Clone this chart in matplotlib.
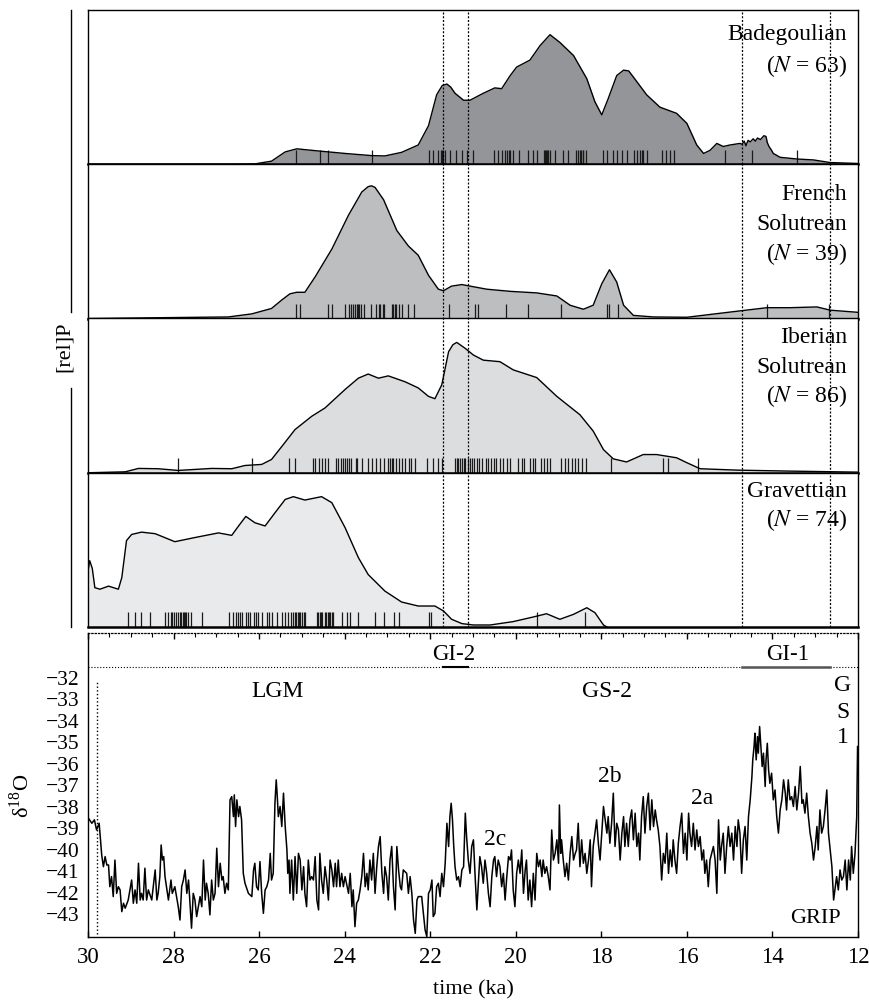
import matplotlib.pyplot as plt
from matplotlib.lines import Line2D
from matplotlib.ticker import MultipleLocator

plt.rcParams['font.family'] = ['Liberation Serif', 'DejaVu Serif']
plt.rcParams['mathtext.fontset'] = 'stix'

# ---- summed probability curves (relative P, panel height = 1) ----
badeg_t = [30.0, 26.56, 26.10, 26.02, 25.71, 25.39, 25.12, 24.61, 23.99, 23.37,
           23.06, 22.67, 22.28, 22.04, 21.85, 21.72, 21.61, 21.52, 21.42, 21.22, 21.07, 20.76,
           20.49, 20.33, 20.13, 19.98, 19.67, 19.43, 19.20, 18.97, 18.65, 18.34,
           18.15, 17.99, 17.84, 17.64, 17.48, 17.36, 17.25, 16.94, 16.63, 16.24, 16.00,
           15.77, 15.61, 15.46, 15.30, 15.15, 14.99, 14.76, 14.71, 14.66, 14.62,
           14.57, 14.52, 14.45, 14.40, 14.35, 14.28, 14.20, 14.15, 14.12, 14.08,
           14.02, 13.98, 13.82, 13.43, 13.04, 12.65, 12.0]
badeg_p = [0.0, 0.0, 0.002, 0.006, 0.02, 0.08, 0.10, 0.086, 0.07, 0.056,
           0.054, 0.077, 0.125, 0.25, 0.45, 0.51, 0.52, 0.50, 0.46, 0.415, 0.415, 0.46,
           0.495, 0.49, 0.575, 0.63, 0.675, 0.77, 0.84, 0.79, 0.705, 0.555,
           0.405, 0.32, 0.425, 0.575, 0.61, 0.605, 0.565, 0.45, 0.37, 0.33, 0.265,
           0.125, 0.07, 0.09, 0.135, 0.115, 0.125, 0.135, 0.13, 0.15, 0.12,
           0.155, 0.145, 0.165, 0.15, 0.17, 0.16, 0.185, 0.18, 0.14, 0.115,
           0.09, 0.07, 0.045, 0.034, 0.028, 0.011, 0.005]

french_t = [30.0, 26.72, 26.17, 25.71, 25.47, 25.28, 25.12, 24.93, 24.69, 24.30,
            23.91, 23.60, 23.45, 23.37, 23.29, 23.09, 22.78, 22.51, 22.28, 22.04, 21.81,
            21.69, 21.50, 21.26, 21.07, 20.68, 20.13, 19.51, 19.04, 18.73, 18.42,
            18.19, 17.99, 17.81, 17.64, 17.48, 17.25, 16.78, 16.00, 15.46, 14.83,
            14.13, 13.59, 12.96, 12.65, 12.0]
french_p = [0.0, 0.01, 0.03, 0.065, 0.12, 0.16, 0.17, 0.17, 0.27, 0.45,
            0.67, 0.82, 0.855, 0.86, 0.85, 0.77, 0.57, 0.47, 0.41, 0.28, 0.19,
            0.18, 0.21, 0.22, 0.21, 0.19, 0.176, 0.166, 0.146, 0.086, 0.06,
            0.086, 0.225, 0.316, 0.236, 0.086, 0.02, 0.01, 0.008, 0.026, 0.047,
            0.07, 0.07, 0.075, 0.054, 0.04]

iber_t = [30.0, 29.13, 28.82, 28.36, 27.89, 27.11, 26.64, 26.33, 25.94, 25.71,
          25.47, 25.16, 24.77, 24.46, 23.99, 23.68, 23.45, 23.21, 22.98, 22.59,
          22.28, 22.04, 21.89, 21.73, 21.57, 21.47, 21.38, 21.18, 20.99, 20.76, 20.37,
          20.06, 19.51, 19.04, 18.50, 18.19, 17.95, 17.72, 17.41, 17.02, 16.71,
          16.24, 16.00, 15.69, 14.83, 13.67, 12.0]
iber_p = [0.0, 0.006, 0.028, 0.026, 0.015, 0.028, 0.026, 0.047, 0.054, 0.086,
          0.17, 0.28, 0.366, 0.42, 0.54, 0.613, 0.64, 0.613, 0.628, 0.59,
          0.55, 0.495, 0.48, 0.57, 0.785, 0.83, 0.845, 0.806, 0.763, 0.73, 0.72,
          0.667, 0.617, 0.495, 0.376, 0.27, 0.15, 0.09, 0.07, 0.118, 0.118,
          0.097, 0.065, 0.026, 0.017, 0.011, 0.004]

grav_t = [30.0, 29.96, 29.90, 29.84, 29.72, 29.52, 29.29, 29.21, 29.10, 28.98, 28.75,
          28.43, 27.97, 27.50, 26.95, 26.64, 26.48, 26.31, 26.10, 25.86, 25.63,
          25.39, 25.20, 24.93, 24.54, 24.30, 23.99, 23.68, 23.45, 23.06, 22.67,
          22.28, 21.89, 21.69, 21.50, 21.26, 20.99, 20.60, 20.06, 19.59, 19.28,
          18.97, 18.65, 18.34, 18.15, 17.95, 17.87]
grav_p = [0.36, 0.43, 0.38, 0.255, 0.245, 0.265, 0.245, 0.32, 0.56, 0.60, 0.615,
          0.605, 0.553, 0.58, 0.61, 0.594, 0.655, 0.717, 0.676, 0.655, 0.74,
          0.827, 0.845, 0.823, 0.845, 0.806, 0.644, 0.45, 0.34, 0.233, 0.162,
          0.136, 0.136, 0.104, 0.05, 0.022, 0.013, 0.013, 0.035, 0.065, 0.086,
          0.05, 0.082, 0.125, 0.093, 0.013, 0.0]

# ---- individual dates (rug) ----
badeg_dates = [25.14, 24.58, 24.38, 23.37, 22.04, 21.93, 21.81, 21.75, 21.72, 21.70,
               21.65, 21.54, 21.40, 21.26, 21.15, 20.99, 20.52, 20.41, 20.33, 20.25,
               20.20, 20.15, 20.13, 20.07, 19.92, 19.71, 19.59, 19.51, 19.34, 19.31,
               19.29, 19.27, 19.24, 19.20, 19.08, 18.89, 18.79, 18.59, 18.54, 18.50,
               18.47, 18.44, 18.42, 18.36, 17.97, 17.86, 17.72, 17.63, 17.52, 17.41,
               17.24, 17.16, 17.10, 17.06, 17.02, 16.94, 16.59, 16.49, 16.39, 16.30,
               15.11, 14.48, 13.43]
french_dates = [25.14, 25.04, 24.40, 24.29, 23.99, 23.91, 23.85, 23.81, 23.77, 23.72,
                23.69, 23.66, 23.62, 23.54, 23.38, 23.27, 23.20, 23.17, 23.11, 23.07,
                22.90, 22.86, 22.83, 22.80, 22.74, 22.67, 22.51, 22.37, 21.56, 20.95,
                20.88, 20.23, 19.71, 18.94, 17.87, 17.81, 17.62, 14.13, 12.67]
iber_dates = [27.89, 26.16, 25.30, 25.16, 24.75, 24.69, 24.61, 24.52, 24.46, 24.40,
              24.21, 24.15, 24.08, 24.03, 23.99, 23.95, 23.91, 23.85, 23.74, 23.72,
              23.60, 23.46, 23.37, 23.27, 23.17, 23.07, 22.99, 22.94, 22.90, 22.86,
              22.80, 22.74, 22.65, 22.60, 22.49, 22.45, 22.35, 22.08, 21.93, 21.82,
              21.73, 21.42, 21.38, 21.34, 21.30, 21.26, 21.22, 21.18, 21.11, 21.07,
              21.03, 20.97, 20.91, 20.85, 20.80, 20.70, 20.64, 20.59, 20.52, 20.46,
              20.38, 20.29, 20.20, 20.13, 19.95, 19.86, 19.81, 19.67, 19.60, 19.55,
              19.40, 19.34, 19.26, 19.21, 18.95, 18.85, 18.77, 18.69, 18.61, 18.54,
              18.45, 18.36, 17.78, 16.55, 16.45, 15.73]
grav_dates = [29.06, 28.90, 28.75, 28.55, 28.20, 28.12, 28.06, 28.03, 27.98, 27.95,
              27.90, 27.85, 27.82, 27.79, 27.76, 27.73, 27.70, 27.67, 27.59, 27.34,
              26.70, 26.60, 26.55, 26.50, 26.45, 26.41, 26.31, 26.25, 26.21, 26.13,
              26.07, 26.02, 25.94, 25.82, 25.78, 25.71, 25.59, 25.47, 25.40, 25.32,
              25.25, 25.20, 25.16, 25.13, 25.10, 25.07, 25.04, 24.99, 24.96, 24.93,
              24.65, 24.62, 24.58, 24.55, 24.52, 24.46, 24.43, 24.40, 24.37, 24.34,
              24.30, 24.27, 24.07, 23.95, 23.87, 23.68, 23.29, 23.09, 22.85, 22.74,
              22.04, 21.98, 19.51, 18.38]

# ---- interstadial boundaries (ka) ----
gi2 = [21.70, 21.12]
gi1 = [14.71, 12.66]

# ---- GRIP d18O ----
grip_age = [
    29.99, 29.91, 29.85, 29.80, 29.74, 29.72, 29.68, 29.64, 29.60, 29.56,
    29.52, 29.49, 29.45, 29.41, 29.37, 29.33, 29.29, 29.25, 29.21, 29.17,
    29.13, 29.06, 28.98, 28.94, 28.90, 28.86, 28.82, 28.78, 28.75, 28.71,
    28.67, 28.63, 28.59, 28.51, 28.43, 28.39, 28.36, 28.32, 28.29, 28.26,
    28.23, 28.20, 28.12, 28.06, 28.03, 27.97, 27.89, 27.85, 27.81, 27.77,
    27.73, 27.69, 27.65, 27.61, 27.58, 27.54, 27.50, 27.46, 27.42, 27.38,
    27.34, 27.30, 27.26, 27.23, 27.19, 27.15, 27.11, 27.07, 27.03, 26.99,
    26.95, 26.91, 26.87, 26.84, 26.80, 26.76, 26.72, 26.68, 26.64, 26.60,
    26.58, 26.55, 26.52, 26.48, 26.45, 26.41, 26.37, 26.33, 26.25, 26.17,
    26.13, 26.10, 26.06, 26.02, 25.98, 25.94, 25.90, 25.86, 25.82, 25.78,
    25.74, 25.71, 25.67, 25.63, 25.60, 25.58, 25.55, 25.51, 25.47, 25.43,
    25.39, 25.35, 25.33, 25.30, 25.28, 25.24, 25.20, 25.16, 25.12, 25.08,
    25.04, 25.00, 24.96, 24.93, 24.89, 24.85, 24.81, 24.77, 24.73, 24.69,
    24.65, 24.61, 24.58, 24.54, 24.50, 24.46, 24.42, 24.38, 24.34, 24.30,
    24.26, 24.22, 24.19, 24.15, 24.11, 24.07, 24.03, 23.99, 23.91, 23.87,
    23.83, 23.80, 23.76, 23.72, 23.68, 23.64, 23.60, 23.56, 23.52, 23.48,
    23.45, 23.41, 23.37, 23.33, 23.29, 23.25, 23.21, 23.17, 23.13, 23.09,
    23.06, 23.02, 22.98, 22.94, 22.90, 22.86, 22.82, 22.78, 22.74, 22.70,
    22.67, 22.63, 22.55, 22.51, 22.47, 22.43, 22.39, 22.35, 22.31, 22.28,
    22.20, 22.16, 22.12, 22.08, 22.04, 22.00, 21.96, 21.93, 21.89, 21.85,
    21.81, 21.77, 21.73, 21.69, 21.65, 21.61, 21.57, 21.54, 21.51, 21.48,
    21.45, 21.42, 21.38, 21.34, 21.30, 21.26, 21.22, 21.18, 21.15, 21.11,
    21.07, 21.03, 20.99, 20.95, 20.91, 20.88, 20.84, 20.80, 20.76, 20.72,
    20.68, 20.64, 20.60, 20.56, 20.52, 20.49, 20.45, 20.41, 20.37, 20.33,
    20.29, 20.25, 20.21, 20.17, 20.13, 20.10, 20.06, 20.02, 19.98, 19.94,
    19.90, 19.86, 19.82, 19.78, 19.75, 19.71, 19.67, 19.63, 19.59, 19.55,
    19.51, 19.47, 19.43, 19.39, 19.36, 19.32, 19.28, 19.24, 19.20, 19.16,
    19.12, 19.08, 19.04, 19.00, 18.98, 18.95, 18.93, 18.89, 18.85, 18.81,
    18.77, 18.73, 18.69, 18.65, 18.61, 18.58, 18.54, 18.50, 18.46, 18.42,
    18.38, 18.34, 18.30, 18.26, 18.23, 18.19, 18.15, 18.11, 18.07, 18.03,
    17.99, 17.95, 17.91, 17.87, 17.84, 17.80, 17.76, 17.72, 17.68, 17.64,
    17.60, 17.56, 17.52, 17.48, 17.45, 17.41, 17.37, 17.33, 17.29, 17.25,
    17.21, 17.17, 17.13, 17.10, 17.06, 17.02, 16.98, 16.94, 16.90, 16.86,
    16.82, 16.78, 16.74, 16.71, 16.67, 16.63, 16.59, 16.55, 16.51, 16.47,
    16.43, 16.39, 16.35, 16.32, 16.28, 16.24, 16.20, 16.16, 16.12, 16.08,
    16.04, 16.00, 15.96, 15.93, 15.89, 15.85, 15.81, 15.77, 15.73, 15.69,
    15.65, 15.61, 15.58, 15.54, 15.50, 15.46, 15.42, 15.38, 15.34, 15.30,
    15.26, 15.22, 15.19, 15.15, 15.11, 15.07, 15.03, 14.99, 14.95, 14.91,
    14.87, 14.83, 14.80, 14.76, 14.72, 14.68, 14.64, 14.60, 14.56, 14.52,
    14.48, 14.46, 14.43, 14.41, 14.38, 14.35, 14.33, 14.30, 14.27, 14.24,
    14.21, 14.17, 14.15, 14.12, 14.09, 14.06, 14.02, 13.98, 13.94, 13.90,
    13.86, 13.82, 13.78, 13.74, 13.70, 13.67, 13.63, 13.59, 13.55, 13.51,
    13.47, 13.43, 13.39, 13.35, 13.31, 13.28, 13.24, 13.20, 13.16, 13.12,
    13.08, 13.04, 13.00, 12.96, 12.93, 12.89, 12.85, 12.81, 12.77, 12.73,
    12.69, 12.65, 12.61, 12.57, 12.53, 12.50, 12.46, 12.42, 12.38, 12.34,
    12.30, 12.26, 12.22, 12.18, 12.15, 12.11, 12.07, 12.03, 12.01]
grip_d18o = [
    -38.53, -38.76, -38.60, -39.07, -38.76, -39.22, -40.23, -40.78, -40.31, -40.70,
    -40.70, -41.71, -41.24, -42.17, -40.47, -42.02, -41.71, -41.86, -42.87, -42.48,
    -42.71, -42.33, -41.40, -42.48, -41.86, -42.48, -40.62, -42.33, -42.02, -42.33,
    -40.85, -42.33, -41.86, -42.33, -40.93, -42.33, -42.02, -41.24, -39.77, -40.47,
    -40.31, -41.24, -42.33, -41.40, -42.02, -41.71, -42.64, -43.26, -41.71, -41.40,
    -40.93, -42.02, -41.40, -42.64, -43.64, -42.02, -42.33, -43.10, -42.64, -42.17,
    -42.64, -40.47, -42.33, -41.55, -42.02, -43.02, -41.40, -42.33, -42.02, -39.92,
    -41.71, -40.62, -41.40, -41.24, -42.02, -41.55, -41.86, -37.67, -37.52, -38.45,
    -37.44, -38.91, -37.67, -38.45, -37.98, -38.60, -41.09, -41.55, -42.02, -42.17,
    -40.93, -40.62, -41.71, -41.86, -40.54, -42.02, -42.95, -41.86, -41.71, -41.40,
    -40.16, -41.40, -41.09, -37.83, -36.74, -37.36, -38.45, -37.98, -38.91, -37.36,
    -38.91, -40.00, -41.09, -40.47, -42.02, -40.47, -42.33, -40.31, -42.02, -40.16,
    -40.47, -41.86, -40.78, -42.02, -42.64, -40.47, -41.40, -41.24, -41.40, -40.31,
    -42.33, -42.79, -40.16, -41.40, -42.02, -40.78, -41.40, -42.33, -40.47, -40.93,
    -41.71, -40.62, -41.71, -40.47, -41.71, -41.09, -41.71, -41.24, -42.02, -41.09,
    -42.64, -41.86, -43.57, -42.48, -42.33, -41.86, -41.24, -40.16, -41.71, -41.09,
    -41.86, -40.47, -41.40, -40.16, -42.02, -40.78, -39.84, -39.38, -41.09, -42.02,
    -40.78, -41.24, -42.33, -40.47, -39.84, -41.71, -42.79, -39.84, -40.93, -41.71,
    -41.86, -40.93, -41.09, -42.02, -41.24, -42.02, -43.26, -43.88, -42.33, -42.17,
    -42.17, -42.95, -43.72, -44.03, -42.02, -41.86, -41.40, -43.10, -42.95, -41.71,
    -41.55, -42.17, -41.09, -41.71, -40.62, -38.76, -39.84, -38.45, -37.83, -38.60,
    -39.84, -40.78, -41.40, -41.24, -41.71, -40.93, -40.78, -38.29, -39.38, -40.47,
    -41.09, -39.84, -39.53, -41.24, -42.79, -41.71, -40.31, -40.78, -41.55, -40.47,
    -41.09, -42.02, -42.64, -41.24, -40.47, -40.31, -41.24, -40.47, -40.78, -41.71,
    -41.09, -42.33, -41.24, -40.31, -40.47, -40.00, -41.86, -42.64, -41.09, -40.47,
    -41.09, -40.00, -42.02, -40.93, -40.47, -42.33, -41.40, -42.64, -41.09, -42.33,
    -40.16, -40.78, -40.47, -41.24, -40.47, -41.09, -40.78, -41.24, -41.86, -39.07,
    -40.47, -40.16, -39.53, -40.62, -37.91, -40.16, -39.53, -40.47, -41.24, -40.62,
    -41.40, -40.16, -39.38, -40.47, -40.16, -40.00, -38.76, -40.78, -39.53, -40.62,
    -40.16, -41.09, -40.47, -39.53, -41.71, -39.84, -39.22, -38.60, -39.69, -40.47,
    -39.22, -37.98, -38.60, -39.22, -38.45, -39.69, -38.76, -37.36, -39.84, -38.76,
    -39.07, -40.47, -39.22, -38.45, -39.84, -38.76, -39.84, -38.60, -38.14, -39.53,
    -38.29, -39.84, -39.22, -40.47, -38.45, -37.52, -39.22, -37.98, -37.36, -39.07,
    -37.67, -38.91, -38.14, -38.60, -39.07, -39.84, -41.40, -40.16, -40.62, -39.22,
    -41.09, -40.00, -40.78, -39.53, -40.47, -41.09, -39.69, -38.91, -38.29, -40.16,
    -39.22, -40.47, -38.29, -39.22, -39.84, -38.76, -40.00, -39.07, -39.84, -39.38,
    -40.47, -40.00, -41.09, -40.47, -41.71, -40.47, -40.16, -39.84, -40.47, -42.02,
    -38.60, -40.47, -39.84, -39.22, -41.09, -39.84, -38.91, -39.84, -39.22, -40.47,
    -38.91, -39.84, -38.60, -39.22, -41.09, -39.53, -38.91, -40.47, -38.45, -37.67,
    -36.59, -35.81, -35.19, -34.57, -35.81, -34.73, -35.50, -34.26, -35.19, -36.12,
    -35.50, -37.05, -35.81, -35.04, -36.28, -36.90, -36.43, -37.67, -37.21, -38.45,
    -39.22, -38.14, -37.67, -36.74, -37.36, -38.14, -36.74, -37.67, -37.52, -37.98,
    -37.05, -38.14, -37.36, -36.12, -37.83, -37.67, -38.29, -37.36, -38.45, -39.22,
    -39.69, -40.47, -39.84, -38.91, -40.00, -38.14, -39.22, -38.91, -38.14, -37.21,
    -39.22, -40.00, -40.78, -42.33, -41.71, -41.24, -41.86, -40.93, -41.40, -41.24,
    -40.47, -41.86, -40.47, -41.40, -39.84, -41.09, -40.16, -38.45, -35.19]

panels = [
    ("Badegoulian", 63, badeg_t, badeg_p, badeg_dates, '#939598', 30, 32),
    ("French\nSolutrean", 39, french_t, french_p, french_dates, '#bcbec0', 36, 30),
    ("Iberian\nSolutrean", 86, iber_t, iber_p, iber_dates, '#dcdddf', 25, 29.5),
    ("Gravettian", 74, grav_t, grav_p, grav_dates, '#e9eaeb', 24, 29.5),
]

W, H = 870, 1008
fig = plt.figure(figsize=(W / 100, H / 100), dpi=100)


def rect(x0, y0, x1, y1):
    # pixel box (top-left origin) -> figure fraction
    return [x0 / W, 1 - y1 / H, (x1 - x0) / W, (y1 - y0) / H]


top0, top1 = 10, 627
ph = (top1 - top0) / 4
dots = (0, (1.6, 1.4))

for i, (name, n, t, p, dates, col, base0, pitch) in enumerate(panels):
    ax = fig.add_axes(rect(88, top0 + i * ph, 858, top0 + (i + 1) * ph))
    ax.fill_between(t, 0, p, color=col, lw=0, zorder=1)
    ax.plot(t, p, color='k', lw=1.0, zorder=3)
    ax.vlines(dates, 0, 0.095, color='#1a1a1a', lw=0.9, zorder=2)
    for b in gi2 + gi1:
        ax.axvline(b, color='k', lw=0.9, ls=dots, zorder=4)
    ax.set_xlim(30, 12)
    ax.set_ylim(0, 1)
    ax.set_xticks([])
    ax.set_yticks([])
    for s in ax.spines.values():
        s.set_linewidth(1.0)
    ax.spines['bottom'].set_linewidth(1.8)
    lines = name.split("\n") + [r"($N$ = %d)" % n]
    for j, line in enumerate(lines):
        ax.text(0.986, 1 - (base0 + j * pitch) / ph, line, transform=ax.transAxes,
                ha='right', va='baseline', fontsize=17)

# ---- GRIP panel ----
ax = fig.add_axes(rect(88, 633, 858, 937))
ax.plot(grip_age, grip_d18o, color='k', lw=1.1)
ax.set_xlim(30, 12)
ax.set_ylim(-44.05, -29.91)
ax.set_yticks(range(-32, -44, -1))
ax.set_xticks(range(30, 11, -2))
ax.xaxis.set_minor_locator(MultipleLocator(0.5))
ax.tick_params(axis='y', length=0, pad=6, labelsize=15.5)
ax.tick_params(axis='x', which='major', direction='in', length=4, width=1,
               top=True, bottom=True, labelsize=16.5, pad=7)
ax.tick_params(axis='x', which='minor', direction='in', length=3, width=0.8,
               top=True, bottom=False)
ax.spines['top'].set_linestyle(':')
ax.spines['top'].set_linewidth(0.9)
for s in ['left', 'bottom', 'right']:
    ax.spines[s].set_linewidth(1.0)

ax.axhline(-31.49, color='k', lw=0.8, ls=':')
ax.vlines(29.79, -43.9, -32.2, color='k', lw=1.0, ls=':')
ax.plot(gi2, [-31.49, -31.49], color='k', lw=1.5)
ax.plot(gi1, [-31.49, -31.49], color='#555555', lw=1.8)

ax.text(sum(gi2) / 2 + 0.03, -30.93, "GI-2", ha='center', va='center', fontsize=16.5)
ax.text(13.64, -30.93, "GI-1", ha='center', va='center', fontsize=16.5)
ax.text(25.56, -32.65, "LGM", ha='center', va='center', fontsize=17)
ax.text(17.87, -32.65, "GS-2", ha='center', va='center', fontsize=17)
for ch, yy in zip("GS1", [-32.33, -33.63, -34.79]):
    ax.text(12.35, yy, ch, ha='center', va='center', fontsize=17)
ax.text(20.49, -39.53, "2c", ha='center', va='center', fontsize=17)
ax.text(17.80, -36.6, "2b", ha='center', va='center', fontsize=17)
ax.text(15.65, -37.6, "2a", ha='center', va='center', fontsize=17)
ax.text(13.0, -43.2, "GRIP", ha='center', va='center', fontsize=16)

# ---- figure-level labels ----
fig.text(473 / W, 1 - 990 / H, "time (ka)", ha='center', va='center', fontsize=16)
fig.text(22 / W, 1 - 796 / H, r"δ$^{\mathregular{18}}$O", ha='center', va='center',
         rotation=90, fontsize=16)
fig.text(64 / W, 1 - 347 / H, "[rel]P", ha='center', va='center',
         rotation=90, fontsize=16)
fig.add_artist(Line2D([71 / W, 71 / W], [1 - 10 / H, 1 - 312 / H], color='k', lw=1.0))
fig.add_artist(Line2D([71 / W, 71 / W], [1 - 388 / H, 1 - 627 / H], color='k', lw=1.0))

fig.savefig("out.png", dpi=100)
